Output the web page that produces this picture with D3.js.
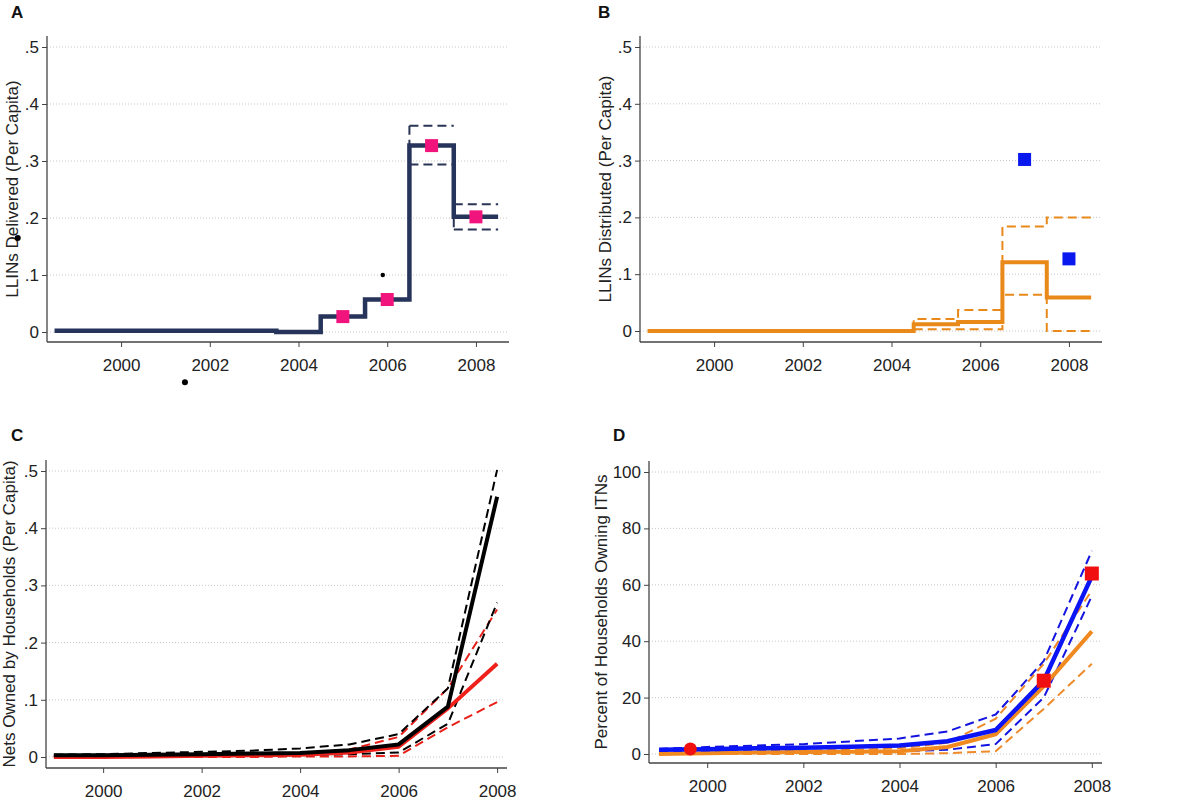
<!DOCTYPE html>
<html><head><meta charset="utf-8">
<script src="https://cdn.jsdelivr.net/npm/d3@7"></script>
<style>body{margin:0;background:#fff}text{font-family:"Liberation Sans",Arial,sans-serif}
.tick text{font-size:17px}</style>
</head><body><svg id="c" width="1183" height="800"></svg>
<script>
// Panel A: LLINs delivered, step series [startYear, endYear, value]
const stepsA = [[1998.5, 2003.5, 0.002], [2003.5, 2004.5, 0], [2004.5, 2005.5, 0.027], [2005.5, 2006.5, 0.057], [2006.5, 2007.5, 0.327], [2007.5, 2008.5, 0.202]];
const ciHiA = [[2006.5, 2007.5, 0.362], [2007.5, 2008.5, 0.224]];
const ciLoA = [[2006.5, 2007.5, 0.294], [2007.5, 2008.5, 0.180]];
const squaresA = [[2005, 0.027], [2006, 0.057], [2007, 0.327], [2008, 0.202]];
const strayA = [[1997.67, 0.165], [2005.9, 0.1], [2001.44, -0.088]];
// Panel B: LLINs distributed
const stepsB = [[1998.5, 2004.5, 0], [2004.5, 2005.5, 0.012], [2005.5, 2006.5, 0.016], [2006.5, 2007.5, 0.121], [2007.5, 2008.5, 0.059]];
const ciHiB = [[2004.5, 2005.5, 0.021], [2005.5, 2006.5, 0.037], [2006.5, 2007.5, 0.184], [2007.5, 2008.5, 0.200]];
const ciLoB = [[2004.5, 2005.5, 0.003], [2005.5, 2006.5, 0.003], [2006.5, 2007.5, 0.064], [2007.5, 2008.5, 0]];
const squaresB = [[2007, 0.302], [2008, 0.127]];
// Panel C: nets owned per capita, 1999..2008
const years = [1999, 2000, 2001, 2002, 2003, 2004, 2005, 2006, 2007, 2008];
const blackMid = [0.003, 0.003, 0.004, 0.005, 0.006, 0.007, 0.012, 0.022, 0.088, 0.455];
const blackHi = [0.004, 0.005, 0.007, 0.009, 0.011, 0.015, 0.022, 0.040, 0.120, 0.502];
const blackLo = [0.002, 0.002, 0.002, 0.002, 0.003, 0.003, 0.005, 0.008, 0.058, 0.270];
const redMid = [0, 0, 0.001, 0.002, 0.003, 0.004, 0.008, 0.018, 0.085, 0.163];
const redHi = [0.001, 0.002, 0.003, 0.004, 0.005, 0.007, 0.013, 0.035, 0.120, 0.258];
const redLo = [0, 0, 0, 0, 0, 0.001, 0.001, 0.002, 0.052, 0.096];
// Panel D: percent of households owning ITNs
const blueMid = [1.5, 1.7, 2.0, 2.2, 2.6, 3.0, 4.5, 8.5, 26, 63];
const blueHi = [1.8, 2.5, 3.0, 3.5, 4.5, 5.5, 8.0, 14, 33, 72];
const blueLo = [1.0, 1.0, 1.0, 1.0, 1.0, 1.0, 1.5, 3.5, 20, 56];
const orangeMid = [0, 0.3, 0.5, 0.7, 0.8, 1.0, 2.5, 7.0, 24, 43.5];
const orangeHi = [0.3, 0.6, 0.9, 1.2, 1.5, 2.0, 4.0, 12.5, 32, 58];
const orangeLo = [0, 0, 0, 0, 0, 0, 0.3, 1.0, 16, 32];
const circlesD = [[1999.65, 1.8]];
const squaresD = [[2007, 26], [2008, 64]];

const xTicks = [2000, 2002, 2004, 2006, 2008];
const yTicksShare = [0, 0.1, 0.2, 0.3, 0.4, 0.5];
const yTicksPct = [0, 20, 40, 60, 80, 100];
const fmtShare = d => d === 0 ? '0' : d3.format('.1f')(d).replace(/^0/, '');

const svg = d3.select('#c');

function panel(o) {
  const x = d3.scaleLinear().domain(o.xDom).range([o.left, o.right]);
  const y = d3.scaleLinear().domain(o.yDom).range(o.yRange);
  const g = svg.append('g');
  // grid
  g.selectAll('.grid').data(o.yTicks).join('line')
    .attr('x1', o.left).attr('x2', o.right)
    .attr('y1', d => y(d)).attr('y2', d => y(d))
    .attr('stroke', '#c8c8c8').attr('stroke-dasharray', '1,2').attr('stroke-width', 1);
  // axes
  const ax = g.append('g').attr('transform', `translate(0,${o.axisY})`)
    .call(d3.axisBottom(x).tickValues(xTicks).tickFormat(d3.format('d')).tickSize(5).tickSizeOuter(0));
  ax.select('.domain').attr('d', `M${o.axisX},0H${o.right + 2}`);
  const ay = g.append('g').attr('transform', `translate(${o.axisX},0)`)
    .call(d3.axisLeft(y).tickValues(o.yTicks).tickFormat(o.fmt).tickSize(5).tickSizeOuter(0));
  ay.select('.domain').attr('d', `M0,${o.axisY}V${o.axisTop}`);
  g.selectAll('.domain').attr('stroke', '#444').attr('stroke-width', 1.3);
  g.selectAll('.tick line').attr('stroke', '#444');
  g.selectAll('.tick text').attr('fill', '#222');
  ax.selectAll('.tick text').attr('dy', '1.25em');
  g.append('text').attr('transform', `translate(${o.labelX},${(o.axisTop + o.axisY) / 2}) rotate(-90)`)
    .attr('text-anchor', 'middle').attr('font-size', 17).attr('fill', '#222').text(o.label);
  g.append('text').attr('x', o.letterX).attr('y', o.letterY).attr('font-size', 17)
    .attr('font-weight', 'bold').attr('fill', '#111').text(o.letter);
  return {g, x, y};
}

function stepPath(steps, x, y) {
  const pts = [];
  steps.forEach(s => { pts.push([s[0], s[2]]); pts.push([s[1], s[2]]); });
  return d3.line().x(d => x(d[0])).y(d => y(d[1]))(pts);
}
function drawSteps(p, steps, color, width, dash) {
  p.g.append('path').attr('d', stepPath(steps, p.x, p.y)).attr('fill', 'none')
    .attr('stroke', color).attr('stroke-width', width).attr('stroke-dasharray', dash || null);
}
function ciSegs(p, steps, color) {
  steps.forEach(s => {
    p.g.append('path').attr('d', d3.line().x(d => p.x(d[0])).y(d => p.y(d[1]))([[s[0], s[2]], [s[1], s[2]]]))
      .attr('stroke', color).attr('stroke-width', 2).attr('stroke-dasharray', '9,5').attr('fill', 'none');
  });
}
function drawLine(p, vals, color, width, dash) {
  p.g.append('path').datum(vals)
    .attr('d', d3.line().x((d, i) => p.x(years[i])).y(d => p.y(d)))
    .attr('fill', 'none').attr('stroke', color).attr('stroke-width', width)
    .attr('stroke-dasharray', dash || null).attr('stroke-linejoin', 'round');
}
function squares(p, pts, color, size) {
  p.g.selectAll(null).data(pts).join('rect')
    .attr('x', d => p.x(d[0]) - size / 2).attr('y', d => p.y(d[1]) - size / 2)
    .attr('width', size).attr('height', size).attr('fill', color);
}

// A
const pA = panel({xDom: [1998.33, 2008.70], left: 47, right: 507, yDom: [0, 0.5], yRange: [332, 47],
  axisX: 47, axisY: 342, axisTop: 36, yTicks: yTicksShare, fmt: fmtShare,
  label: 'LLINs Delivered (Per Capita)', labelX: 18, letter: 'A', letterX: 11, letterY: 18});
ciSegs(pA, ciHiA, '#2a3556');
ciSegs(pA, ciLoA, '#2a3556');
pA.g.selectAll(null).data(ciHiA).join('line')
  .attr('x1', d => pA.x(d[0])).attr('x2', d => pA.x(d[0]))
  .attr('y1', d => pA.y(d[2])).attr('y2', (d, i) => pA.y(ciLoA[i][2]))
  .attr('stroke', '#2a3556').attr('stroke-width', 2).attr('stroke-dasharray', '9,5');
drawSteps(pA, stepsA, '#26335a', 4.5);
squares(pA, squaresA, '#f0147c', 13);
pA.g.selectAll(null).data(strayA).join('circle')
  .attr('cx', d => pA.x(d[0])).attr('cy', d => pA.y(d[1])).attr('r', (d, i) => i === 1 ? 2.2 : 3).attr('fill', '#000');

// B
const pB = panel({xDom: [1998.33, 2008.70], left: 640, right: 1100, yDom: [0, 0.5], yRange: [331, 47],
  axisX: 640, axisY: 342, axisTop: 36, yTicks: yTicksShare, fmt: fmtShare,
  label: 'LLINs Distributed (Per Capita)', labelX: 611, letter: 'B', letterX: 598, letterY: 18});
drawSteps(pB, [[2004.5, 2004.5, 0.003]].concat(ciHiB), '#e8891a', 2, '9,5');
drawSteps(pB, ciLoB, '#e8891a', 2, '9,5');
drawSteps(pB, stepsB, '#e8891a', 4);
squares(pB, squaresB, '#0a18f0', 13);

// C
const pC = panel({xDom: [1998.84, 2008.16], left: 46, right: 505, yDom: [0, 0.5], yRange: [757, 471],
  axisX: 46, axisY: 768, axisTop: 460, yTicks: yTicksShare, fmt: fmtShare,
  label: 'Nets Owned by Households (Per Capita)', labelX: 15, letter: 'C', letterX: 11, letterY: 441});
drawLine(pC, redHi, '#e8201a', 2, '9,5');
drawLine(pC, redLo, '#e8201a', 2, '9,5');
drawLine(pC, blackHi, '#000', 2, '9,5');
drawLine(pC, blackLo, '#000', 2, '9,5');
drawLine(pC, redMid, '#f0201a', 4);
drawLine(pC, blackMid, '#000', 4);

// D
const pD = panel({xDom: [1998.79, 2008.17], left: 649, right: 1100, yDom: [0, 100], yRange: [754, 472],
  axisX: 649, axisY: 763, axisTop: 461, yTicks: yTicksPct, fmt: d3.format('d'),
  label: 'Percent of Households Owning ITNs', labelX: 607, letter: 'D', letterX: 613, letterY: 441});
drawLine(pD, orangeHi, '#ee8a2a', 2, '9,5');
drawLine(pD, orangeLo, '#ee8a2a', 2, '9,5');
drawLine(pD, blueHi, '#1414e0', 2, '9,5');
drawLine(pD, blueLo, '#1414e0', 2, '9,5');
drawLine(pD, orangeMid, '#f08a20', 4);
drawLine(pD, blueMid, '#0a14f5', 4.5);
pD.g.selectAll(null).data(circlesD).join('circle')
  .attr('cx', d => pD.x(d[0])).attr('cy', d => pD.y(d[1])).attr('r', 6.5).attr('fill', '#f01010');
squares(pD, squaresD, '#f01010', 14);
</script></body></html>
